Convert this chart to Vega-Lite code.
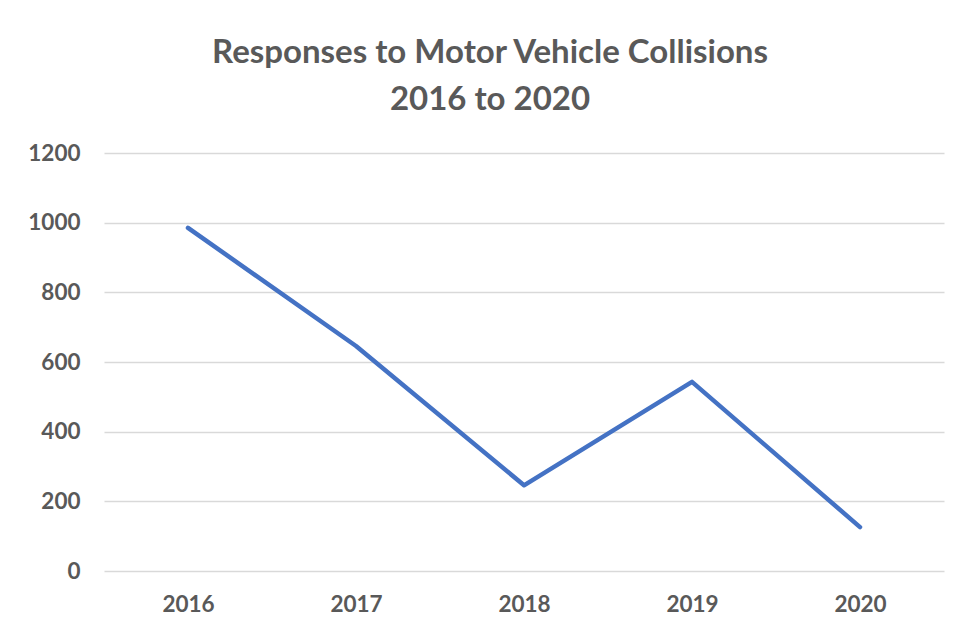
{
  "$schema": "https://vega.github.io/schema/vega-lite/v6.json",
  "autosize": "none",
  "width": 840,
  "height": 418,
  "padding": {"left": 104, "top": 153, "right": 17, "bottom": 64},
  "background": "white",
  "config": {"view": {"stroke": null}, "font": "Lato"},
  "title": {
    "text": ["Responses to Motor Vehicle Collisions", "2016 to 2020"],
    "font": "Lato",
    "fontSize": 33,
    "fontWeight": "bold",
    "color": "#595959",
    "anchor": "middle",
    "dx": -34,
    "lineHeight": 47,
    "offset": 25
  },
  "data": {
    "values": [
      {"year": "2016", "responses": 985},
      {"year": "2017", "responses": 646},
      {"year": "2018", "responses": 246},
      {"year": "2019", "responses": 543},
      {"year": "2020", "responses": 126}
    ]
  },
  "mark": {"type": "line", "color": "#4472C4", "strokeWidth": 4.5, "strokeCap": "round", "strokeJoin": "round"},
  "encoding": {
    "x": {
      "field": "year",
      "type": "ordinal",
      "scale": {"type": "point", "padding": 0.5},
      "axis": {
        "title": null,
        "labelAngle": 0,
        "domain": false,
        "ticks": false,
        "grid": false,
        "labelFont": "Lato",
        "labelFontSize": 22.5,
        "labelFontWeight": "bold",
        "labelColor": "#595959",
        "labelPadding": 22
      }
    },
    "y": {
      "field": "responses",
      "type": "quantitative",
      "scale": {"domain": [0, 1200]},
      "axis": {
        "title": null,
        "values": [0, 200, 400, 600, 800, 1000, 1200],
        "format": "d",
        "domain": false,
        "ticks": false,
        "grid": true,
        "gridColor": "#d9d9d9",
        "gridWidth": 1.3,
        "labelFont": "Lato",
        "labelFontSize": 22.5,
        "labelFontWeight": "bold",
        "labelColor": "#595959",
        "labelPadding": 24
      }
    }
  }
}
